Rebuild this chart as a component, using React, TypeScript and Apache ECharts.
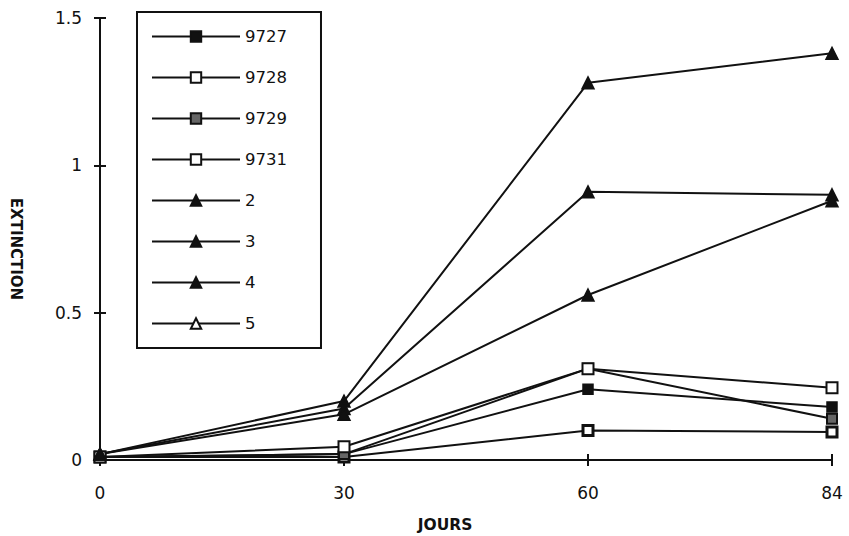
import React, { useEffect, useRef } from "react";
import * as echarts from "echarts";

const categories = ["0", "30", "60", "84"];
const yTicks = [0, 0.5, 1, 1.5];
const seriesNames = ["9727", "9728", "9729", "9731", "2", "3", "4", "5"];
const s9727 = [0.01, 0.02, 0.24, 0.18];
const s9728 = [0.01, 0.01, 0.1, 0.095];
const s9729 = [0.01, 0.02, 0.31, 0.14];
const s9731 = [0.01, 0.045, 0.31, 0.245];
const s2 = [0.02, 0.2, 1.28, 1.38];
const s3 = [0.02, 0.175, 0.91, 0.9];
const s4 = [0.02, 0.155, 0.56, 0.88];
const s5 = [0, 0, 0, 0];

export default function App() {
  const ref = useRef<HTMLDivElement>(null);
  useEffect(() => {
    if (!ref.current) return;
    const chart = echarts.init(ref.current, null, { renderer: "svg" });
    const font = "DejaVu Sans";
    const mk = (
      name: string,
      data: number[],
      symbol: string,
      fill: string,
      size: number,
      borderWidth = 1.5,
      hideSymbols = false
    ) => ({
      name,
      type: "line",
      data: hideSymbols ? data.map((v) => ({ value: v, symbol: "none" })) : data,
      symbol,
      symbolSize: size,
      showSymbol: true,
      lineStyle: { color: "#111", width: 2 },
      itemStyle: { color: fill, borderColor: "#111", borderWidth },
      z: 3,
    });
    chart.setOption({
      animation: false,
      backgroundColor: "#fff",
      grid: { left: 100, right: 17, top: 18, bottom: 76, outerBoundsMode: "none" },
      legend: {
        orient: "vertical",
        left: 137,
        top: 12,
        padding: [16, 34, 16, 14],
        borderColor: "#111",
        borderWidth: 2,
        itemWidth: 88,
        itemHeight: 13,
        itemGap: 24,
        textStyle: { color: "#111", fontSize: 16.5, fontFamily: font },
        data: seriesNames,
      },
      xAxis: [
        {
          type: "category",
          data: categories,
          boundaryGap: false,
          axisLine: { lineStyle: { color: "#111", width: 2 } },
          axisTick: { show: true, length: 6, lineStyle: { color: "#111", width: 2 } },
          axisLabel: { color: "#111", fontSize: 17, fontFamily: font, margin: 24 },
          name: "JOURS",
          nameLocation: "middle",
          nameGap: 57,
          nameTextStyle: {
            color: "#111",
            fontSize: 15.5,
            fontWeight: "bold",
            fontFamily: font,
            padding: [0, 42, 0, 0],
          },
          splitLine: { show: false },
        },
        {
          type: "category",
          data: categories,
          boundaryGap: false,
          position: "bottom",
          axisLine: { show: false },
          axisTick: { show: true, inside: true, length: 6, lineStyle: { color: "#111", width: 2 } },
          axisLabel: { show: false },
          splitLine: { show: false },
        },
      ],
      yAxis: [
        {
          type: "value",
          min: 0,
          max: 1.5,
          interval: 0.5,
          axisLine: { show: true, lineStyle: { color: "#111", width: 2 } },
          axisTick: { show: true, length: 6, lineStyle: { color: "#111", width: 2 } },
          axisLabel: {
            color: "#111",
            fontSize: 17,
            fontFamily: font,
            margin: 18,
            formatter: (v: number) => (yTicks.includes(v) ? String(v) : ""),
          },
          splitLine: { show: false },
          name: "EXTINCTION",
          nameLocation: "middle",
          nameRotate: -90,
          nameGap: 77,
          nameTextStyle: {
            color: "#111",
            fontSize: 15,
            fontWeight: "bold",
            fontFamily: font,
            padding: [0, 0, 0, 20],
          },
        },
        {
          type: "value",
          min: 0,
          max: 1.5,
          interval: 0.5,
          position: "left",
          axisLine: { show: false },
          axisTick: { show: true, inside: true, length: 6, lineStyle: { color: "#111", width: 2 } },
          axisLabel: { show: false },
          splitLine: { show: false },
        },
      ],
      series: [
        mk("9727", s9727, "rect", "#111", 10),
        mk("9728", s9728, "rect", "#fff", 10, 3),
        mk("9729", s9729, "rect", "#666", 10, 2),
        mk("9731", s9731, "rect", "#fff", 11, 2),
        mk("2", s2, "triangle", "#111", 12),
        mk("3", s3, "triangle", "#111", 12),
        mk("4", s4, "triangle", "#111", 12),
        mk("5", s5, "triangle", "#fff", 12, 2, true),
      ],
    });
    return () => chart.dispose();
  }, []);
  return (
    <div
      ref={ref}
      style={{ position: "absolute", left: 0, top: 0, width: 849, height: 536 }}
    />
  );
}
